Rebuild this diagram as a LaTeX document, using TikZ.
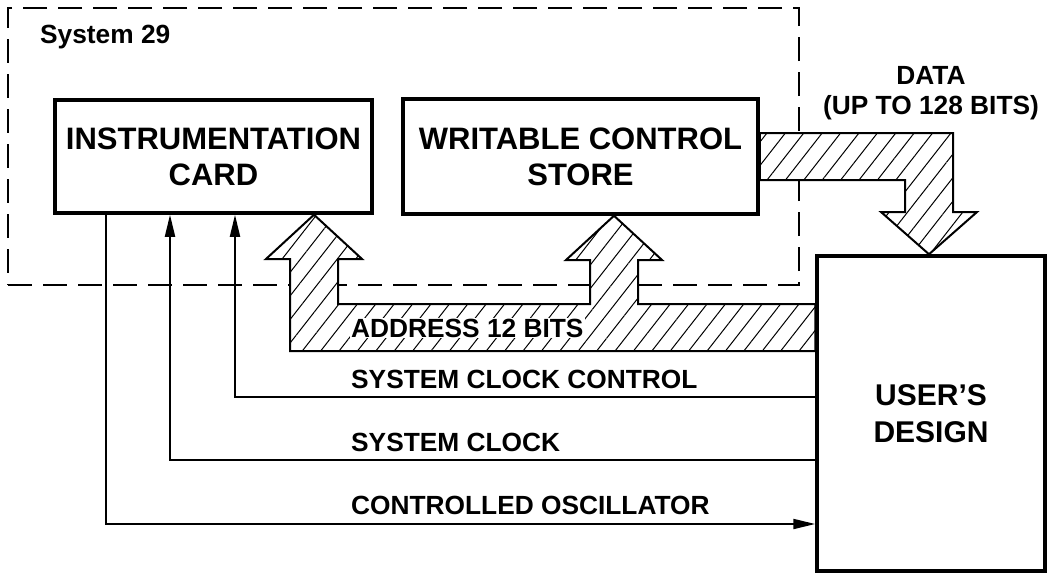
\documentclass[tikz,border=0pt]{standalone}
\usepackage{fontspec}
\setmainfont{Liberation Sans}
\usepackage{tikz}
\usetikzlibrary{arrows.meta, positioning, patterns.meta}

\begin{document}
\begin{tikzpicture}[
  x=1pt, y=-1pt,
  block/.style    = {rectangle, draw, line width=3.5pt, align=center,
                     font=\fontsize{31}{36}\selectfont\bfseries},
  sysframe/.style = {rectangle, draw, line width=1.5pt, dash pattern=on 24pt off 11pt,
                     minimum width=791pt, minimum height=277pt},
  bus/.style      = {draw, line width=2pt, line join=miter, preaction={fill=white},
                     pattern={Lines[angle=52, distance=14.5pt, line width=1pt]}},
  sig/.style      = {line width=2pt},
  arr/.style      = {sig, -{Triangle[length=22pt, width=10pt]}},
  lbl/.style      = {font=\fontsize{26.3}{30}\selectfont\bfseries, inner sep=1pt}
]
\useasboundingbox (0,0) rectangle (1049,573);

\node[sysframe] (sys) at (403.5,146.5) {};
\node[lbl, anchor=west] (systitle) at (39,37) {System 29};

\node[block, minimum width=317pt, minimum height=113pt] (card) at (213.5,156.5) {INSTRUMENTATION\\CARD};
\node[block, minimum width=355pt, minimum height=115pt] (wcs)  at (580.5,156.5) {WRITABLE CONTROL\\STORE};
\node[block, minimum width=228pt, minimum height=315pt,
      font=\fontsize{30}{37}\selectfont\bfseries] (user) at (931,413.5) {USER'S\\DESIGN};

% Address bus (hatched)
\draw[bus] (user.west |- 0,351) -- (290,351) -- (290,259) -- (266,259) -- (card.south -| 314,0)
  -- (362,259) -- (338,259) -- (338,304) -- (590,304) -- (590,260) -- (566,260)
  -- (wcs.south -| 614,0) -- (662,260) -- (638,260) -- (638,304) -- (user.west |- 0,304) -- cycle;
\node[lbl, fill=white, anchor=west] (addrlbl) at (350,328) {ADDRESS 12 BITS};

% Data bus (hatched)
\draw[bus] (wcs.east |- 0,133) -- (953,133) -- (953,212) -- (977,212) -- (user.north -| 929,0)
  -- (881,212) -- (905,212) -- (905,180) -- (wcs.east |- 0,180) -- cycle;
\node[lbl, align=center] (datalbl) at (931,93) {DATA\\(UP TO 128 BITS)};

% Clock lines
\draw[arr] (user.west |- 0,397) -| (card.south -| 235,0);
\draw[arr] (user.west |- 0,460) -| (card.south -| 170,0);
\draw[arr] (card.south -| 106,0) |- (user.west |- 0,524);
\node[lbl, anchor=west] (scclbl) at (350,379) {SYSTEM CLOCK CONTROL};
\node[lbl, anchor=west] (sclbl)  at (350,442) {SYSTEM CLOCK};
\node[lbl, anchor=west] (colbl)  at (350,505) {CONTROLLED OSCILLATOR};

\end{tikzpicture}
\end{document}
